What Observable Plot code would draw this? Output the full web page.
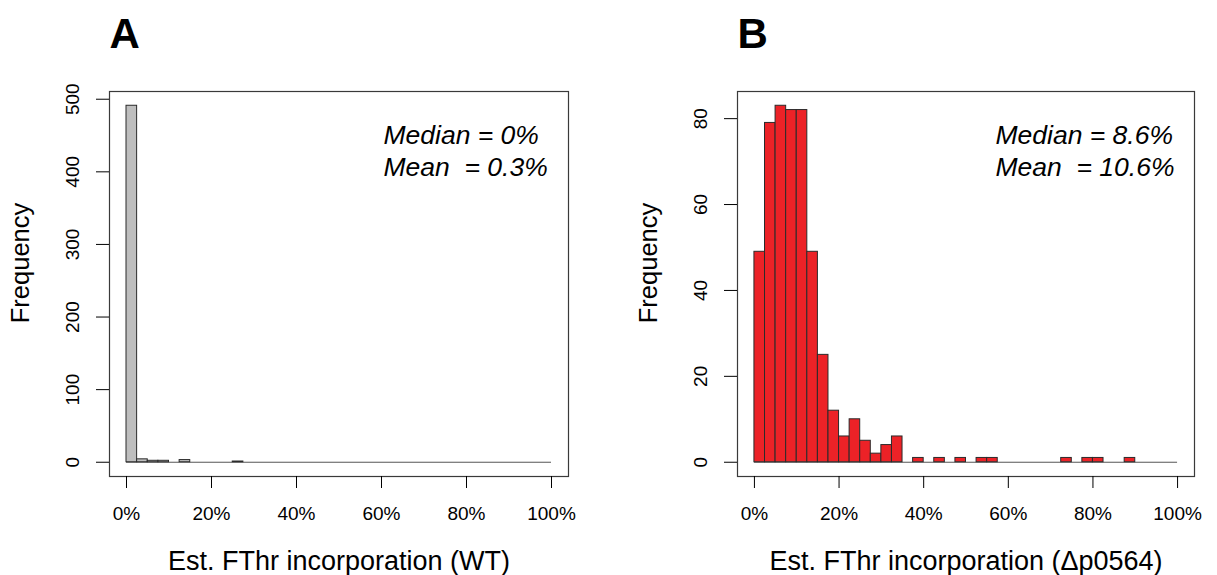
<!DOCTYPE html>
<html><head><meta charset="utf-8">
<script src="https://cdn.jsdelivr.net/npm/d3@7"></script>
<script src="https://cdn.jsdelivr.net/npm/@observablehq/plot@0.6"></script>
<style>
html,body{margin:0;padding:0;background:#fff;}
#wrap{position:relative;width:1217px;height:575px;overflow:hidden;background:#fff;}
.panel{position:absolute;top:0;}
svg text{white-space:pre;}
</style></head>
<body>
<div id="wrap"><div class="panel" id="pa" style="left:0px"></div><div class="panel" id="pb" style="left:627px"></div></div>
<script>
// Histogram bins: 2.5% wide, from 0% to 100%
const binWidth = 2.5;
const binStarts = d3.range(0, 100, binWidth);

// Panel A (WT) counts per bin
const countsWT = [491, 4, 2, 2, 0, 3, 0, 0, 0, 0,
                  1, 0, 0, 0, 0, 0, 0, 0, 0, 0,
                  0, 0, 0, 0, 0, 0, 0, 0, 0, 0,
                  0, 0, 0, 0, 0, 0, 0, 0, 0, 0];
// Panel B (Δp0564) counts per bin
const countsMut = [49, 79, 83, 82, 82, 49, 25, 12, 6, 10,
                   5, 2, 4, 6, 0, 1, 0, 1, 0, 1,
                   0, 1, 1, 0, 0, 0, 0, 0, 0, 1,
                   0, 1, 1, 0, 0, 1, 0, 0, 0, 0];

const xTicks = [0, 20, 40, 60, 80, 100];
const yTicksWT = [0, 100, 200, 300, 400, 500];
const yTicksMut = [0, 20, 40, 60, 80];

const xLabelWT = "Est. FThr incorporation (WT)";
const xLabelMut = "Est. FThr incorporation (\u0394p0564)";
const noteWT = "Median = 0%\nMean  = 0.3%";
const noteMut = "Median = 8.6%\nMean  = 10.6%";

function panel({counts, yTicks, fill, letter, xlabel, note, width, ml, mr, noteDx}) {
  const data = binStarts.map((x0, i) => ({x0, x1: x0 + binWidth, n: counts[i]}));
  const yMax = d3.max(counts);
  return Plot.plot({
    width, height: 575,
    marginLeft: ml, marginRight: mr, marginTop: 91, marginBottom: 99,
    style: {fontFamily: "'Liberation Sans', Arial, sans-serif", fontSize: "19px", color: "#000", background: "transparent", overflow: "visible"},
    x: {domain: [-4, 104]},
    y: {domain: [-0.04 * yMax, 1.04 * yMax]},
    marks: [
      Plot.ruleY([0], {x1: 0, x2: 100, stroke: "#555", strokeWidth: 1}),
      Plot.rect(data.filter(d => d.n > 0), {x1: "x0", x2: "x1", y1: 0, y2: "n", fill, stroke: "#2b2b2b", strokeWidth: 1}),
      Plot.frame({stroke: "#3a3a3a", strokeWidth: 1.2}),
      Plot.axisX({ticks: xTicks, tickSize: 12, tickPadding: 18, tickFormat: d => d + "%", fontSize: 19, label: null}),
      Plot.axisY({ticks: yTicks, tickSize: 13, tickPadding: 17.5, tickRotate: -90, fontSize: 19, label: null}),
      Plot.text([xlabel], {text: d => d, frameAnchor: "bottom", lineAnchor: "top", dy: 74, fontSize: 27}),
      Plot.text(["Frequency"], {text: d => d, frameAnchor: "left", rotate: -90, lineAnchor: "bottom", textAnchor: "middle", dx: -81, dy: -21, fontSize: 25.5}),
      Plot.text([note], {text: d => d, frameAnchor: "top-left", textAnchor: "start", lineAnchor: "top", dx: noteDx, dy: 29.6, fontSize: 26.5, fontStyle: "italic", lineHeight: 1.21}),
      Plot.text([letter], {text: d => d, frameAnchor: "top-left", textAnchor: "start", lineAnchor: "bottom", dx: 0, dy: -44, fontSize: 42, fontWeight: "bold"})
    ]
  });
}

document.getElementById("pa").appendChild(panel({
  counts: countsWT, yTicks: yTicksWT, fill: "#bebebe", letter: "A",
  xlabel: xLabelWT, note: noteWT, width: 627, ml: 109, mr: 59, noteDx: 274
}));
document.getElementById("pb").appendChild(panel({
  counts: countsMut, yTicks: yTicksMut, fill: "#ec2227", letter: "B",
  xlabel: xLabelMut, note: noteMut, width: 590, ml: 110, mr: 23, noteDx: 258
}));
</script>
</body></html>
